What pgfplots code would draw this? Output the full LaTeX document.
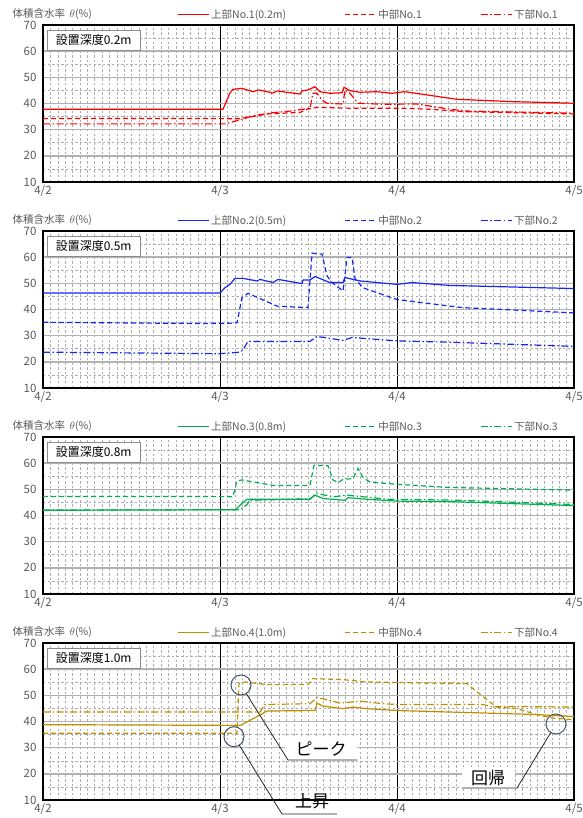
\documentclass[border=0pt]{standalone}
\usepackage{pgfplots}
\pgfplotsset{compat=1.18}
\usepackage{fontspec}
\setmainfont{Noto Sans CJK JP}
\definecolor{cred}{RGB}{255,0,0}
\definecolor{cblue}{RGB}{20,40,245}
\definecolor{cgreen}{RGB}{0,176,80}
\definecolor{cgold}{RGB}{191,144,0}
\definecolor{lbl}{RGB}{89,89,89}
\definecolor{circ}{RGB}{68,84,106}
\tikzset{
  sdash/.style={dash pattern=on 5pt off 3pt},
  sdashdot/.style={dash pattern=on 7pt off 2.5pt on 1.5pt off 2.5pt},
}
\pgfplotsset{
  panel/.style={
    anchor=south west, scale only axis, width=531pt, height=157pt,
    xmin=0, xmax=3, ymin=10, ymax=70, clip=false,
    xtick={0,1,2,3}, xticklabels={4/2,4/3,4/4,4/5},
    ytick={10,20,...,70}, minor x tick num=23, minor y tick num=1,
    grid=both,
    major tick length=0pt, minor tick length=0pt,
    major x grid style={black, line width=0.8pt},
    major y grid style={black!30, line width=1.4pt},
    minor grid style={black!32, line width=0.5pt, dash pattern=on 2.3pt off 2.3pt},
    axis line style={black, line width=1.6pt},
    tick label style={font=\fontsize{11.5}{12}\selectfont, text=lbl},
    /pgf/number format/assume math mode=true,
    yticklabel style={xshift=-3pt},
    legend columns=3,
    legend image code/.code={\draw[##1] (0pt,0pt) -- (31pt,0pt);},
    legend style={at={(0.252,1)}, anchor=south west, yshift=5pt, draw=none, fill=none, inner sep=0pt,
      font=\fontsize{10.5}{11}\selectfont, text=lbl, nodes={inner xsep=2pt, inner ysep=0pt},
      /tikz/every even column/.append style={column sep=56pt}},
    every axis plot/.append style={line width=1.2pt},
  },
}
\newcommand{\deco}[1]{%
  \node[anchor=west, font=\fontsize{10.5}{11}\selectfont, text=lbl, xshift=-34pt, yshift=11pt] at (rel axis cs:0,1) {体積含水率\ \ $\theta$(\%)};
  \node[draw=black!45, fill=white, anchor=north west, minimum width=93pt, minimum height=20pt, inner sep=0pt,
    font=\fontsize{12}{12}\selectfont, xshift=4pt, yshift=-5pt] at (rel axis cs:0,1) {設置深度#1};
}
\begin{document}
\begin{tikzpicture}
\path[use as bounding box] (0pt,0pt) rectangle (582pt,818pt);
% ---------- Panel 1 ----------
\begin{axis}[panel, at={(43pt,636pt)}]
\addplot[cred] coordinates {(0,37.8) (1.017,37.8) (1.056,44) (1.073,45.4) (1.124,45.8) (1.186,44.5) (1.220,45.2) (1.299,44) (1.322,44.8) (1.452,43.6) (1.463,44.8) (1.497,45.2) (1.537,46.4) (1.565,44.5) (1.621,43.9) (1.689,44.1) (1.701,46.2) (1.734,44.9) (1.791,44.3) (1.887,44.5) (1.972,43.9) (2.045,44.5) (2.339,41.6) (2.655,40.7) (3,40.1)};
\addlegendentry{上部No.1(0.2m)}
\addplot[cred, sdash] coordinates {(0,34.3) (1.11,34.2) (1.20,35.2) (1.266,36) (1.452,36.6) (1.492,37.8) (1.548,38.5) (1.734,38.2) (2.017,38.2) (2.186,37.8) (2.373,36.9) (3,36.0)};
\addlegendentry{中部No.1}
\addplot[cred, sdashdot] coordinates {(0,32.2) (1.028,32.2) (1.113,33.7) (1.186,35.3) (1.299,36.5) (1.412,37.2) (1.508,38.2) (1.525,43.9) (1.548,43.9) (1.576,41.3) (1.605,40.1) (1.695,39.8) (1.706,45.2) (1.734,43.9) (1.780,40.1) (1.921,39.7) (2.113,39.8) (2.299,37.8) (2.4,37.1) (3,36.3)};
\addlegendentry{下部No.1}
\deco{0.2m}
\end{axis}
% ---------- Panel 2 ----------
\begin{axis}[panel, at={(43pt,430pt)}]
\addplot[cblue] coordinates {(0,46.3) (1.0,46.3) (1.028,48.3) (1.056,49.6) (1.085,51.9) (1.130,51.9) (1.209,50.9) (1.226,51.5) (1.299,50.3) (1.328,51.5) (1.463,49.9) (1.469,51.3) (1.508,51.3) (1.537,52.6) (1.621,50.3) (1.695,50.3) (1.706,52.2) (1.791,50.9) (2.0,49.6) (2.085,50.3) (2.299,49.2) (3,48)};
\addlegendentry{上部No.2(0.5m)}
\addplot[cblue, sdash] coordinates {(0,35.1) (1.0,34.6) (1.096,34.9) (1.124,44.5) (1.158,46.2) (1.322,41.3) (1.497,40.7) (1.520,61.5) (1.576,61.2) (1.605,52.8) (1.633,50.3) (1.695,47.1) (1.718,59.9) (1.746,59.9) (1.763,51.8) (1.808,48.3) (2.0,43.8) (2.299,41.3) (2.373,40.7) (3,38.7)};
\addlegendentry{中部No.2}
\addplot[cblue, sdashdot] coordinates {(0,23.7) (1.0,23.1) (1.113,23.7) (1.130,24.6) (1.158,27.8) (1.508,27.8) (1.548,29.7) (1.695,28.2) (1.746,29.3) (2.0,28.0) (2.299,27.5) (3,25.9)};
\addlegendentry{下部No.2}
\deco{0.5m}
\end{axis}
% ---------- Panel 3 ----------
\begin{axis}[panel, at={(43pt,224pt)}]
\addplot[cgreen] coordinates {(0,42.0) (1.085,42.2) (1.124,44.6) (1.153,46.2) (1.508,46.2) (1.537,47.8) (1.582,46.5) (1.706,45.8) (1.723,46.8) (1.831,46.2) (2.0,45.5) (2.299,45.3) (3,43.8)};
\addlegendentry{上部No.3(0.8m)}
\addplot[cgreen, sdash] coordinates {(0,47.3) (1.073,47.2) (1.096,53.2) (1.124,53.6) (1.299,51.5) (1.508,51.5) (1.531,59.2) (1.610,59.0) (1.638,53.6) (1.667,52.6) (1.695,53.8) (1.751,54.1) (1.780,58.0) (1.808,54.5) (1.847,52.8) (2.0,51.9) (2.299,50.7) (3,49.7)};
\addlegendentry{中部No.3}
\addplot[cgreen, sdashdot] coordinates {(0,42.1) (1.113,42.2) (1.153,44.2) (1.169,45.8) (1.508,46.4) (1.548,48.5) (1.638,47.1) (1.718,47.8) (1.944,46.2) (2.299,45.9) (2.486,45.5) (3,44.2)};
\addlegendentry{下部No.3}
\deco{0.8m}
\end{axis}
% ---------- Panel 4 ----------
\begin{axis}[panel, at={(43pt,18pt)}]
\addplot[cgold] coordinates {(0,38.8) (1.113,38.5) (1.169,40.4) (1.266,44.0) (1.537,44.2) (1.548,47.0) (1.582,45.9) (1.695,44.9) (1.751,45.5) (1.831,44.9) (2.0,44.2) (2.768,42.7) (3,41.9)};
\addlegendentry{上部No.4(1.0m)}
\addplot[cgold, sdash] coordinates {(0,35.5) (1.096,35.5) (1.107,54.5) (1.141,55.1) (1.266,54.1) (1.497,54.1) (1.525,56.4) (1.695,56.0) (1.831,55.1) (2.0,54.9) (2.395,54.5) (2.452,51.3) (2.525,47.4) (2.565,45.5) (2.678,44.9) (2.808,42.3) (2.881,41.3) (3,40.7)};
\addlegendentry{中部No.4}
\addplot[cgold, sdashdot] coordinates {(0,43.6) (1.226,43.6) (1.254,46.5) (1.508,46.8) (1.548,49.1) (1.605,48.3) (1.678,47.0) (1.791,47.8) (1.921,46.8) (2.0,46.5) (2.486,46.5) (2.542,45.5) (2.582,45.8) (3,45.5)};
\addlegendentry{下部No.4}
\deco{1.0m}
\end{axis}
% ---------- annotations (panel 4) ----------
\draw[circ, line width=1pt] (241pt,133pt) circle[radius=10pt];
\draw[circ, line width=1pt] (234pt,81.3pt) circle[radius=10pt];
\draw[circ, line width=1pt] (556pt,94pt) circle[radius=10pt];
\node[fill=white, inner sep=0pt, minimum width=72pt, minimum height=21pt, font=\fontsize{17}{17}\selectfont] at (321pt,69pt) {ピーク};
\node[fill=white, inner sep=0pt, minimum width=53pt, minimum height=22pt, font=\fontsize{17}{17}\selectfont] at (488pt,40pt) {回帰};
\node[inner sep=0pt, font=\fontsize{17}{17}\selectfont] at (312pt,17pt) {上昇};
\draw[black!85, line width=0.8pt] (246.2pt,124.5pt) -- (288pt,58pt) -- (357pt,58pt);
\draw[black!85, line width=0.8pt] (239.3pt,72.8pt) -- (282pt,4pt) -- (337pt,4pt);
\draw[black!85, line width=0.8pt] (550.8pt,85.5pt) -- (517pt,30pt) -- (462pt,30pt);
\end{tikzpicture}
\end{document}
